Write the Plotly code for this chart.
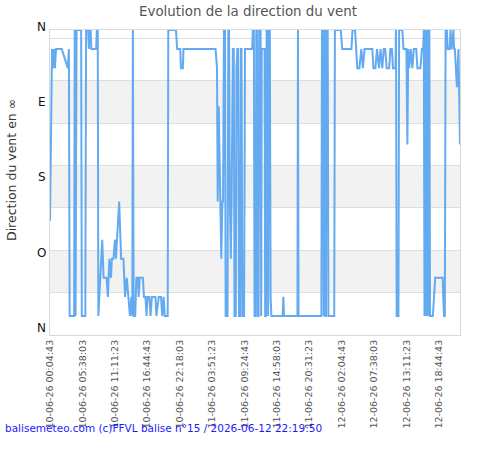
import pandas as pd
import plotly.graph_objects as go

# ---- data ----
start_time = "2026-06-10 00:04:43"
minutes = [0, 13, 21, 31, 41, 51, 62, 121, 183, 194, 202, 248, 254, 263, 273, 320, 327, 363, 371, 392,
           400, 409, 418, 425, 474, 482, 491, 497, 515, 537, 551, 582, 595, 610, 627, 636, 652, 668, 678, 687,
           711, 731, 755, 772, 789, 806, 822, 837, 846, 852, 860, 876, 888, 904, 912, 922, 955, 966, 981, 993,
           1002, 1022, 1033, 1048, 1084, 1094, 1118, 1141, 1154, 1168, 1180, 1210, 1216, 1295, 1307, 1339, 1346, 1366, 1372, 1702,
           1710, 1717, 1724, 1735, 1741, 1748, 1761, 1772, 1779, 1788, 1799, 1806, 1825, 1833, 1841, 1849, 1859, 1867, 1880, 1889,
           1897, 1910, 1917, 1926, 1934, 1943, 1954, 1962, 1969, 1977, 1995, 2005, 2078, 2086, 2096, 2103, 2114, 2121, 2129, 2136,
           2144, 2152, 2165, 2171, 2177, 2206, 2212, 2221, 2227, 2237, 2243, 2249, 2260, 2268, 2276, 2392, 2399, 2406, 2544, 2549,
           2555, 2790, 2796, 2806, 2814, 2822, 2829, 2837, 2843, 2855, 2862, 2922, 2929, 2989, 3004, 3099, 3110, 3136, 3145, 3159,
           3181, 3200, 3217, 3234, 3314, 3325, 3345, 3362, 3382, 3398, 3416, 3431, 3446, 3461, 3487, 3499, 3515, 3526, 3551, 3557,
           3564, 3582, 3589, 3622, 3634, 3664, 3674, 3683, 3693, 3709, 3725, 3740, 3765, 3777, 3808, 3823, 3836, 3843, 3850, 3857,
           3864, 3871, 3878, 3885, 3893, 3900, 3907, 3936, 3960, 4037, 4043, 4051, 4059, 4067, 4080, 4088, 4109, 4117, 4129, 4140,
           4147, 4155, 4162, 4183, 4199, 4215]
direction = [225, 45, 22.5, 45, 22.5, 45, 22.5, 22.5, 45, 22.5, 337.5, 337.5, 0, 337.5, 0, 0, 337.5, 337.5, 0, 0,
             22.5, 0, 0, 22.5, 22.5, 0, 0, 337.5, 292.5, 247.5, 292.5, 292.5, 315, 270, 292.5, 270, 270, 247.5, 270, 247.5,
             202.5, 270, 270, 315, 292.5, 315, 337.5, 315, 337.5, 0, 337.5, 337.5, 292.5, 292.5, 315, 292.5, 292.5, 315, 315, 337.5,
             315, 315, 337.5, 315, 315, 337.5, 315, 315, 337.5, 315, 337.5, 337.5, 0, 0, 22.5, 22.5, 45, 45, 22.5, 22.5,
             45, 45, 202.5, 90, 135, 202.5, 270, 202.5, 202.5, 0, 0, 337.5, 337.5, 0, 0, 202.5, 270, 202.5, 22.5, 22.5,
             337.5, 337.5, 45, 22.5, 22.5, 337.5, 337.5, 22.5, 22.5, 337.5, 337.5, 22.5, 22.5, 0, 0, 337.5, 337.5, 0, 0, 337.5,
             337.5, 0, 0, 337.5, 22.5, 22.5, 337.5, 337.5, 0, 0, 337.5, 0, 0, 315, 337.5, 337.5, 315, 337.5, 337.5, 0,
             337.5, 337.5, 0, 0, 337.5, 0, 337.5, 337.5, 0, 0, 337.5, 337.5, 0, 0, 22.5, 22.5, 0, 0, 22.5, 45,
             45, 22.5, 45, 22.5, 22.5, 45, 45, 22.5, 45, 22.5, 45, 22.5, 22.5, 45, 45, 22.5, 22.5, 45, 45, 0,
             337.5, 337.5, 0, 0, 22.5, 22.5, 135, 22.5, 45, 22.5, 45, 22.5, 22.5, 45, 45, 22.5, 22.5, 0, 337.5, 0,
             337.5, 0, 337.5, 0, 337.5, 0, 337.5, 337.5, 292.5, 292.5, 315, 337.5, 337.5, 0, 0, 22.5, 22.5, 0, 22.5, 0,
             0, 22.5, 22.5, 67.5, 22.5, 135]

tick_times = ["2026-06-10 00:04:43", "2026-06-10 05:38:03", "2026-06-10 11:11:23", "2026-06-10 16:44:43",
              "2026-06-10 22:18:03", "2026-06-11 03:51:23", "2026-06-11 09:24:43", "2026-06-11 14:58:03",
              "2026-06-11 20:31:23", "2026-06-12 02:04:43", "2026-06-12 07:38:03", "2026-06-12 13:11:23",
              "2026-06-12 18:44:43"]
grid_degrees = [10, 60, 110, 160, 210, 260, 310]
band_ranges = [(60, 110), (160, 210), (260, 310)]
compass_labels = ["N", "E", "S", "O", "N"]
compass_paper_y = [1.011, 0.765, 0.519, 0.270, 0.022]

times = pd.Timestamp(start_time) + pd.to_timedelta(minutes, unit="min")

FONT = "DejaVu Sans"

fig = go.Figure()
fig.add_trace(go.Scatter(
    x=times, y=direction, mode="lines",
    line=dict(color="rgb(100,170,240)", width=2),
    hoverinfo="skip", showlegend=False,
))

for y0, y1 in band_ranges:
    fig.add_shape(type="rect", xref="paper", yref="y", x0=0, x1=1, y0=y0, y1=y1,
                  fillcolor="#f2f2f2", line=dict(width=0), layer="below")

for lab, py in zip(compass_labels, compass_paper_y):
    fig.add_annotation(text=lab, xref="paper", yref="paper", x=0, y=py,
                       xanchor="right", yanchor="middle", xshift=-2, showarrow=False,
                       font=dict(family=FONT, size=12, color="#111"))

fig.add_annotation(text="Direction du vent en ∞", xref="paper", yref="paper",
                   x=-0.0927, y=0.541, textangle=-90, showarrow=False,
                   xanchor="center", yanchor="middle",
                   font=dict(family=FONT, size=12.5, color="#333"))

fig.add_annotation(text="balisemeteo.com (c)FFVL balise n°15 / 2026-06-12 22:19:50",
                   xref="paper", yref="paper", x=-0.1146, y=-0.305,
                   xanchor="left", yanchor="middle", showarrow=False,
                   font=dict(family=FONT, size=10.5, color="#1a1aff"))

fig.update_layout(
    width=500, height=450,
    margin=dict(l=50, r=40, t=30, b=115, autoexpand=False),
    paper_bgcolor="white", plot_bgcolor="white",
    title=dict(text="Evolution de la direction du vent", x=0.496, xanchor="center",
               y=1 - 11 / 450, yanchor="middle",
               font=dict(family=FONT, size=13.4, color="#555")),
    font=dict(family=FONT),
)

fig.update_xaxes(
    type="date", range=[times[0], times[-1]],
    tickvals=pd.to_datetime(tick_times), tickformat="%d-%m-%y %H:%M:%S",
    tickangle=-90, tickfont=dict(family=FONT, size=9.5, color="#555"),
    showgrid=False, zeroline=False, ticks="",
    showline=True, mirror=True, linecolor="#d9d9d9", linewidth=1,
    automargin=False,
)
fig.update_yaxes(
    range=[360, 0], tickvals=grid_degrees, showticklabels=False,
    showgrid=True, gridcolor="#dedede", gridwidth=1, zeroline=False, ticks="",
    showline=True, mirror=True, linecolor="#d9d9d9", linewidth=1,
    automargin=False,
)

fig.write_html("out.html")
